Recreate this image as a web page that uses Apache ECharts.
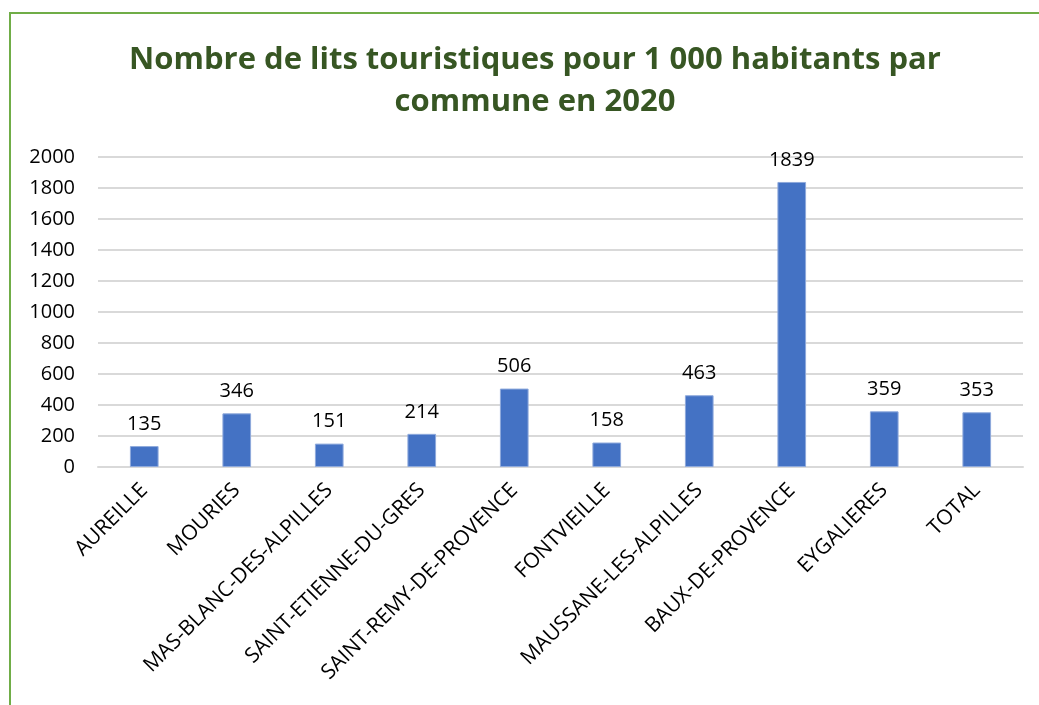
<!DOCTYPE html>
<html>
<head>
<meta charset="utf-8">
<script src="https://cdn.jsdelivr.net/npm/echarts@6/dist/echarts.min.js"></script>
<style>
  html, body { margin: 0; padding: 0; background: #fff; }
  #frame { position: absolute; left: 9px; top: 12px; width: 1100px; height: 800px; border: 2px solid #70AD47; box-sizing: border-box; }
  #chart { position: absolute; left: 0; top: 0; width: 1039px; height: 705px; }
</style>
</head>
<body>
<div id="frame"></div>
<div id="chart"></div>
<script>
const communes = [
  "AUREILLE", "MOURIES", "MAS-BLANC-DES-ALPILLES", "SAINT-ETIENNE-DU-GRES",
  "SAINT-REMY-DE-PROVENCE", "FONTVIEILLE", "MAUSSANE-LES-ALPILLES",
  "BAUX-DE-PROVENCE", "EYGALIERES", "TOTAL"
];
const litsPour1000 = [135, 346, 151, 214, 506, 158, 463, 1839, 359, 353];

const titleText = "Nombre de lits touristiques pour 1 000 habitants par\ncommune en 2020";
const fontFam = "'Open Sans', 'Noto Sans', sans-serif";

const chart = echarts.init(document.getElementById("chart"));
chart.setOption({
  backgroundColor: "transparent",
  animation: false,
  textStyle: { fontFamily: fontFam },
  title: {
    text: titleText,
    left: 530,
    textAlign: "center",
    top: 34,
    textStyle: {
      fontFamily: fontFam,
      fontSize: 31,
      fontWeight: "bold",
      color: "#375623",
      lineHeight: 42,
      align: "center"
    }
  },
  grid: { left: 98, right: 16, top: 157, bottom: 238 },
  xAxis: {
    type: "category",
    data: communes,
    axisTick: { show: false },
    axisLine: { lineStyle: { color: "#d9d9d9", width: 2 } },
    axisLabel: {
      interval: 0,
      rotate: 45,
      margin: 20,
      fontSize: 21,
      color: "#000",
      fontFamily: fontFam
    }
  },
  yAxis: {
    type: "value",
    min: 0,
    max: 2000,
    interval: 200,
    axisLine: { show: false },
    axisTick: { show: false },
    splitLine: { lineStyle: { color: "#d9d9d9", width: 2 } },
    axisLabel: {
      fontSize: 20,
      color: "#000",
      margin: 23,
      fontFamily: fontFam,
      formatter: (v) => String(v)
    }
  },
  series: [{
    type: "bar",
    data: litsPour1000,
    barWidth: "31%",
    itemStyle: { color: "#4472C4", borderColor: "#8FAADC", borderWidth: 1 },
    label: {
      show: true,
      position: "top",
      distance: 12,
      fontSize: 20,
      color: "#000",
      fontFamily: fontFam
    }
  }]
});
</script>
</body>
</html>
